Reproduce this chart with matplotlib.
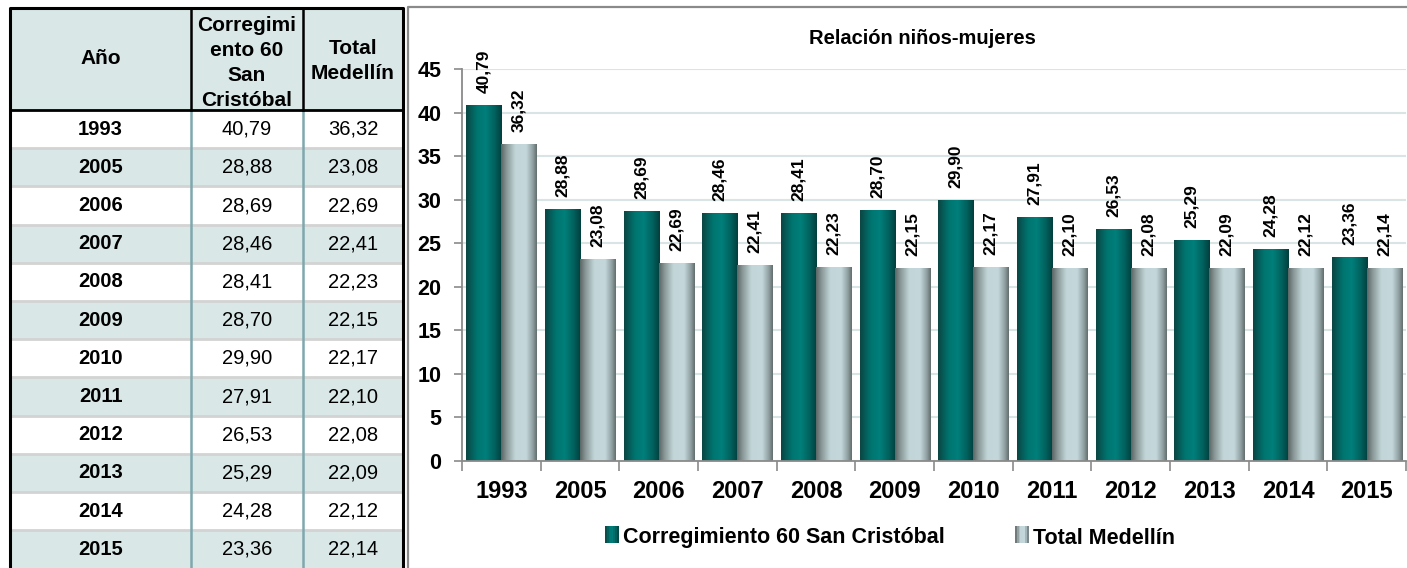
import matplotlib
matplotlib.use('Agg')
import matplotlib.pyplot as plt
import numpy as np
from matplotlib.colors import LinearSegmentedColormap
from matplotlib.patches import Rectangle
from matplotlib.legend_handler import HandlerBase

plt.rcParams['font.family'] = ['Liberation Sans', 'DejaVu Sans']

# datos
anios = ['1993', '2005', '2006', '2007', '2008', '2009', '2010', '2011', '2012', '2013', '2014', '2015']
san_cristobal = [40.79, 28.88, 28.69, 28.46, 28.41, 28.70, 29.90, 27.91, 26.53, 25.29, 24.28, 23.36]
medellin = [36.32, 23.08, 22.69, 22.41, 22.23, 22.15, 22.17, 22.10, 22.08, 22.09, 22.12, 22.14]
serie1 = 'Corregimiento 60 San Cristóbal'
serie2 = 'Total Medellín'
titulo = 'Relación niños-mujeres'


def coma(v):
    return ('%.2f' % v).replace('.', ',')


# colores degradados de las barras
cmap1 = LinearSegmentedColormap.from_list('verde', [(0, '#0b4644'), (0.3, '#00746f'),
                                                    (0.55, '#007f7b'), (0.8, '#00625e'), (1, '#00403e')])
cmap2 = LinearSegmentedColormap.from_list('gris', [(0, '#5c6767'), (0.15, '#8a9898'), (0.4, '#c2d6d9'),
                                                   (0.7, '#c4d8db'), (0.88, '#94a4a6'), (1, '#65706f')])


class Degradado(HandlerBase):
    def __init__(self, cm):
        super().__init__()
        self.cm = cm

    def create_artists(self, legend, orig, xd, yd, w, h, fontsize, trans):
        n = 8
        arts = []
        for k in range(n):
            r = Rectangle((xd + w * k / n, yd), w / n + 0.3, h, color=self.cm((k + 0.5) / n),
                          lw=0, transform=trans)
            arts.append(r)
        return arts


W, H = 1407, 568
fig = plt.figure(figsize=(W / 100, H / 100), dpi=100)

# capa de fondo en pixeles para la tabla y el marco
bg = fig.add_axes([0, 0, 1, 1])
bg.set_xlim(0, W)
bg.set_ylim(H, 0)
bg.axis('off')

x_l, x_c1, x_c2, x_r = 10, 191, 303, 403
y_top, y_head = 8, 110
row_h = 38.2
tinta = '#d9e7e7'

bg.add_patch(Rectangle((x_l, y_top), x_r - x_l, y_head - y_top, color=tinta, lw=0))
for i, a in enumerate(anios):
    y0 = y_head + i * row_h
    if i % 2 == 1:
        bg.add_patch(Rectangle((x_l, y0), x_r - x_l, row_h, color=tinta, lw=0))
    if i > 0:
        bg.plot([x_l, x_r], [y0, y0], color='#d3d3d3', lw=2)
    yc = y0 + row_h / 2
    bg.text((x_l + x_c1) / 2, yc, a, ha='center', va='center', fontsize=14.5, fontweight='bold')
    bg.text((x_c1 + x_c2) / 2, yc, coma(san_cristobal[i]), ha='center', va='center', fontsize=14.5)
    bg.text((x_c2 + x_r) / 2, yc, coma(medellin[i]), ha='center', va='center', fontsize=14.5)

bg.text((x_l + x_c1) / 2, 59, 'Año', ha='center', va='center', fontsize=15, fontweight='bold')
bg.text((x_c1 + x_c2) / 2, 63, 'Corregimi\nento 60\nSan\nCristóbal', ha='center', va='center',
        fontsize=15, fontweight='bold', linespacing=1.38)
bg.text((x_c2 + x_r) / 2, 61, 'Total\nMedellín', ha='center', va='center',
        fontsize=15, fontweight='bold', linespacing=1.38)

# lineas de la tabla
bg.plot([x_c1, x_c1], [y_head, H], color='#7fa8ae', lw=1.8)
bg.plot([x_c2, x_c2], [y_head, H], color='#7fa8ae', lw=1.8)
bg.plot([x_c1, x_c1], [y_top, y_head], color='black', lw=1.8)
bg.plot([x_c2, x_c2], [y_top, y_head], color='black', lw=1.8)
bg.plot([x_l, x_r], [y_head, y_head], color='black', lw=2)
bg.plot([x_l, x_l, x_r, x_r], [H, y_top, y_top, H], color='black', lw=2.2)

# marco del grafico
bg.plot([408, 408, W + 5], [H + 5, 7, 7], color='#8a8a8a', lw=1.6)

# grafico
ax = fig.add_axes([462 / W, (H - 461) / H, (1406 - 462) / W, (461 - 69) / H])
x = np.arange(len(anios))
ancho = 0.445
b1 = ax.bar(x - ancho / 2, san_cristobal, ancho, color='#007874', label=serie1, zorder=2)
b2 = ax.bar(x + ancho / 2, medellin, ancho, color='#b4cacd', label=serie2, zorder=2)

grad = np.linspace(0, 1, 64).reshape(1, -1)
for barras, cm in ((b1, cmap1), (b2, cmap2)):
    for p in barras:
        ax.imshow(grad, cmap=cm, aspect='auto', zorder=2.5, interpolation='bilinear',
                  extent=[p.get_x(), p.get_x() + p.get_width(), 0, p.get_height()])

for barras, vals in ((b1, san_cristobal), (b2, medellin)):
    for p, v in zip(barras, vals):
        ax.annotate(coma(v), (p.get_x() + p.get_width() / 2, p.get_height()),
                    xytext=(0, 9), textcoords='offset points', rotation=90,
                    ha='center', va='bottom', fontsize=12.5, fontweight='bold')

ax.set_xlim(-0.5, len(anios) - 0.5)
ax.set_ylim(0, 45)
ax.set_yticks(np.arange(0, 46, 5))
ax.yaxis.grid(True, color='#d9e5e5', lw=1.5, zorder=0)
ax.set_axisbelow(True)
ax.set_xticks(x)
ax.set_xticklabels(anios, fontsize=17, fontweight='bold')
ax.set_xticks(np.arange(-0.5, len(anios), 1), minor=True)
ax.tick_params(axis='x', which='major', length=0, pad=14)
ax.tick_params(axis='x', which='minor', length=7, color='#8a8a8a', width=1.2)
ax.tick_params(axis='y', length=6, color='#8a8a8a', width=1.2, pad=9)
for t in ax.get_yticklabels():
    t.set_fontsize(15.5)
    t.set_fontweight('bold')
for s in ('top', 'right'):
    ax.spines[s].set_visible(False)
ax.spines['left'].set_color('#8a8a8a')
ax.spines['bottom'].set_color('#8a8a8a')
ax.spines['left'].set_linewidth(1.3)
ax.spines['bottom'].set_linewidth(1.3)

fig.text(922 / W, 1 - 39 / H, titulo, ha='center', va='center', fontsize=14.5, fontweight='bold')

fig.legend(handles=[b1, b2], loc='center', bbox_to_anchor=(890 / W, 1 - 538 / H), ncol=2,
           frameon=False, prop={'size': 15.5, 'weight': 'bold'}, handlelength=0.6,
           handleheight=0.8, handletextpad=0.2, columnspacing=3.3,
           handler_map={b1: Degradado(cmap1), b2: Degradado(cmap2)})

fig.savefig('out.png', dpi=100)
